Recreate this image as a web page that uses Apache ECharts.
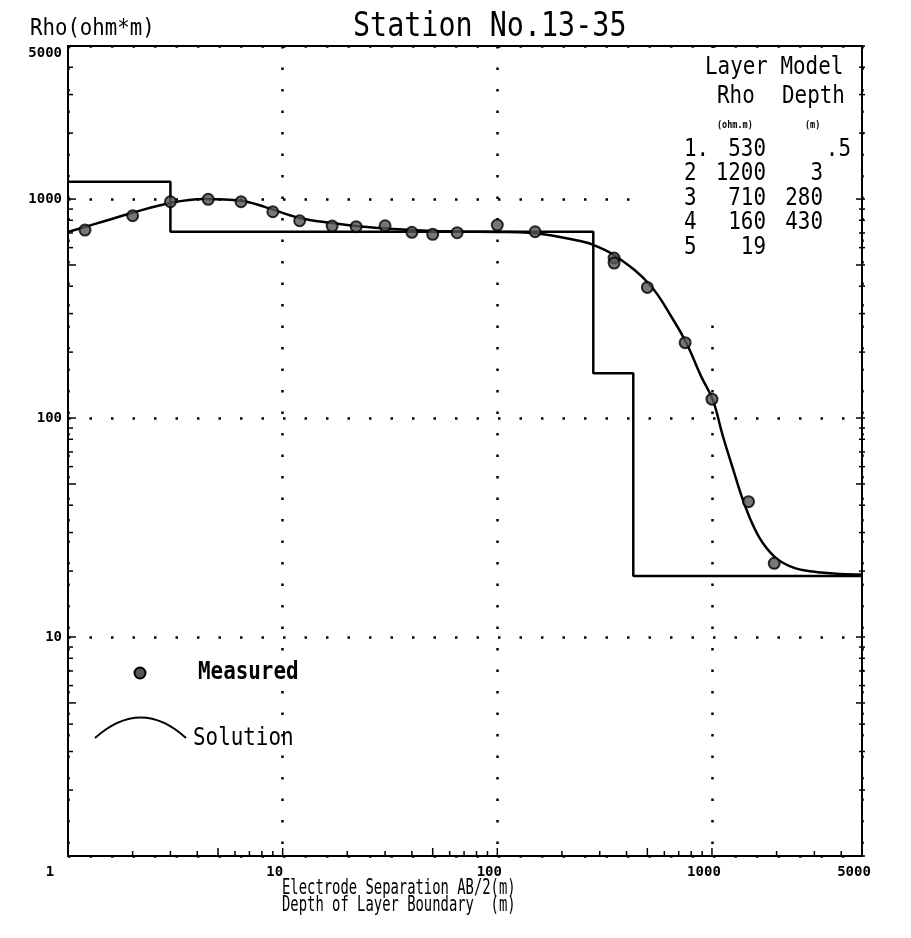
<!DOCTYPE html>
<html>
<head>
<meta charset="utf-8">
<script src="https://cdn.jsdelivr.net/npm/echarts@6/dist/echarts.min.js"></script>
<style>
html, body { margin: 0; background: #fff; }
#chart { width: 911px; height: 938px; }
</style>
</head>
<body>
<div id="chart"></div>
<script>
// measured apparent resistivity: AB/2 (m) and rho (ohm*m)
var measuredAB2 = [1.2, 2, 3, 4.5, 6.4, 9, 12, 17, 22, 30, 40, 50, 65, 100, 150, 350, 350, 500, 750, 1000, 1480, 1950];
var measuredRho = [722, 839, 972, 997, 972, 875, 796, 753, 748, 755, 705, 690, 702, 761, 709, 538, 510, 395, 221, 122, 41.5, 21.7];

// solution curve
var curveAB2 = [1, 1.5, 2, 3, 4.3, 6.4, 8.3, 12, 17, 23, 33, 47, 67, 100, 140, 190, 240, 280, 360, 513, 660, 760, 890, 1009, 1123, 1250, 1392, 1549, 1725, 2004, 2380, 2950, 4000, 5000];
var curveRho = [707, 796, 866, 960, 1000, 983, 919, 819, 777, 750, 730, 717, 711, 708, 702, 675, 645, 618, 545, 406, 281, 220, 155, 121, 83, 59, 42.4, 32.6, 26.9, 22.8, 20.8, 19.9, 19.4, 19.3];

// layer model
var layerNo = [1, 2, 3, 4, 5];
var layerRho = [530, 1200, 710, 160, 19];
var layerDepth = ['.5', '3', '280', '430'];

var xMin = 1, xMax = 5000, yMin = 1, yMax = 5000;
var decades = [1, 10, 100, 1000];
var mult = [1, 2, 3, 4, 5, 6, 7, 8, 9];

var FONT = '"DejaVu Sans Mono", monospace';

// layer model as a step line
var stepPts = [];
layerRho.forEach(function (r, i) {
    var top = i === 0 ? 0 : Number(layerDepth[i - 1]);
    var bot = i < layerDepth.length ? Number(layerDepth[i]) : Infinity;
    if (bot <= xMin) return;
    stepPts.push([Math.max(top, xMin), r]);
    stepPts.push([Math.min(bot, xMax), r]);
});

var tickVals = [];
decades.forEach(function (d) {
    mult.forEach(function (m) {
        if (d * m <= xMax) tickVals.push({ v: d * m, m: m });
    });
});

function txt(s, x, y, o) {
    o = o || {};
    return {
        type: 'text', x: x, y: y, z: 10,
        scaleX: o.sx || 0.87,
        style: {
            text: s, fill: '#000',
            fontFamily: FONT, fontSize: o.size || 24, fontWeight: o.w || 'normal',
            align: o.align || 'left', verticalAlign: 'middle'
        }
    };
}

var graphics = [
    // cover grid dots behind the layer table
    { type: 'rect', z: 1, shape: { x: 645, y: 48, width: 214, height: 268 }, style: { fill: '#fff' } },
    txt('Station No.13-35', 353, 27, { size: 34, sx: 0.835 }),
    txt('Rho(ohm*m)', 30, 29, { size: 23, sx: 0.9 }),
    txt('Layer Model', 705, 68),
    txt('Rho', 717, 97),
    txt('Depth', 782, 97),
    txt('(ohm.m)', 717, 125, { size: 10, w: 'bold', sx: 0.85 }),
    txt('(m)', 805, 125, { size: 10, w: 'bold', sx: 0.85 }),
    // legend
    { type: 'circle', z: 10, shape: { cx: 140, cy: 673, r: 5.5 }, style: { fill: '#555', stroke: '#000', lineWidth: 2 } },
    txt('Measured', 198, 673, { w: 'bold' }),
    { type: 'bezierCurve', z: 10, shape: { x1: 95, y1: 738, cpx1: 141, cpy1: 697, x2: 186, y2: 738 }, style: { stroke: '#000', lineWidth: 2, fill: null } },
    txt('Solution', 193, 739),
    txt('Electrode Separation AB/2(m)', 282, 888, { size: 22, sx: 0.63 }),
    txt('Depth of Layer Boundary  (m)', 282, 905, { size: 22, sx: 0.63 })
];
var rowY = [150, 174, 199, 223, 248];
layerNo.forEach(function (n, i) {
    graphics.push(txt(String(n) + (i === 0 ? '.' : ''), 684, rowY[i]));
    graphics.push(txt(String(layerRho[i]), 766, rowY[i], { align: 'right' }));
    if (i < layerDepth.length) {
        graphics.push(txt(layerDepth[i], i === 0 ? 851 : 823, rowY[i], { align: 'right' }));
    }
});

var dotted = { color: '#000', width: 2.5, type: [2.5, 19] };

var chart = echarts.init(document.getElementById('chart'));
chart.setOption({
    backgroundColor: '#fff',
    animation: false,
    grid: { left: 68, right: 49, top: 46, bottom: 82, show: true, borderColor: '#000', borderWidth: 2, backgroundColor: 'transparent' },
    xAxis: {
        type: 'log', logBase: 10, min: xMin, max: xMax,
        axisLine: { show: false }, axisTick: { show: false },
        splitLine: { show: true, lineStyle: dotted },
        axisLabel: {
            margin: 9, color: '#000', fontFamily: FONT, fontWeight: 'bold', fontSize: 14,
            formatter: function (v) { return v === 1 ? '{a|1}' : '{b|' + v + '}'; },
            rich: {
                a: { fontFamily: FONT, fontWeight: 'bold', fontSize: 14, padding: [0, 36, 0, 0] },
                b: { fontFamily: FONT, fontWeight: 'bold', fontSize: 14, padding: [0, 16, 0, 0] }
            }
        }
    },
    yAxis: {
        type: 'log', logBase: 10, min: yMin, max: yMax,
        axisLine: { show: false }, axisTick: { show: false },
        splitLine: { show: true, lineStyle: dotted },
        axisLabel: {
            margin: 6, color: '#000', fontFamily: FONT, fontWeight: 'bold', fontSize: 14,
            showMinLabel: false,
            formatter: function (v) { return v === yMax ? '{t|' + v + '}' : String(v); },
            rich: { t: { fontFamily: FONT, fontWeight: 'bold', fontSize: 14, padding: [14, 0, 0, 0] } }
        }
    },
    graphic: graphics,
    series: [
        {
            type: 'line', name: 'Layer Model', data: stepPts,
            showSymbol: false, silent: true,
            lineStyle: { color: '#000', width: 2.5 }, z: 3
        },
        {
            type: 'line', name: 'Solution', smooth: 0.4,
            data: curveAB2.map(function (x, i) { return [x, curveRho[i]]; }),
            showSymbol: false, silent: true,
            lineStyle: { color: '#000', width: 2.5 }, z: 4
        },
        {
            type: 'scatter', name: 'Measured',
            data: measuredAB2.map(function (x, i) { return [x, measuredRho[i]]; }),
            symbol: 'circle', symbolSize: 11,
            itemStyle: { color: '#555', borderColor: '#000', borderWidth: 2 }, z: 5
        },
        {
            // minor / major tick marks on the left, bottom and right sides
            type: 'custom', silent: true, z: 6,
            data: tickVals.map(function (t) { return [t.v, t.m]; }),
            renderItem: function (params, api) {
                var v = api.value(0), m = api.value(1);
                var len = (m === 1 || m === 5) ? 8 : 5;
                var b = api.coord([v, yMin]);
                var l = api.coord([xMin, v]), r = api.coord([xMax, v]);
                var st = { stroke: '#000', lineWidth: 1.5 };
                var kids = [
                    { type: 'line', shape: { x1: b[0], y1: b[1], x2: b[0], y2: b[1] - len }, style: st }
                ];
                if (v <= yMax) {
                    kids.push({ type: 'line', shape: { x1: l[0], y1: l[1], x2: l[0] + len, y2: l[1] }, style: st });
                    kids.push({ type: 'line', shape: { x1: r[0] + 3, y1: r[1], x2: r[0] - len + 2, y2: r[1] }, style: st });
                }
                return { type: 'group', children: kids };
            }
        }
    ]
});
</script>
</body>
</html>
